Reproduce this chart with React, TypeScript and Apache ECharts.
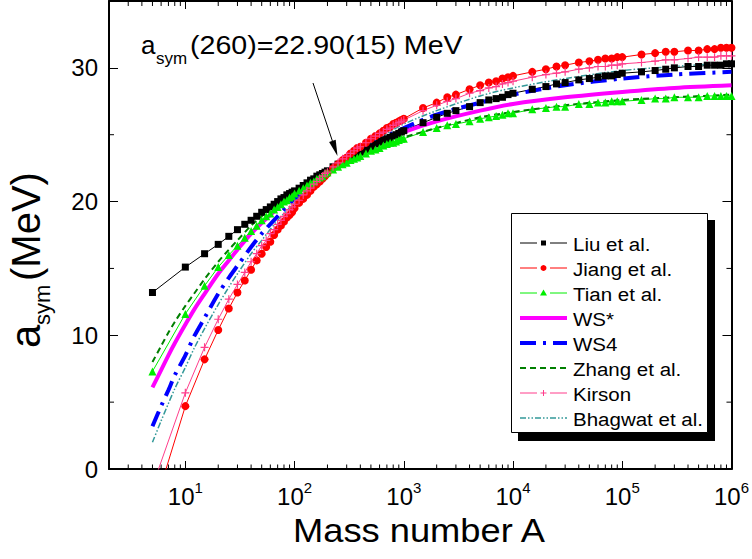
import React, { useEffect, useRef } from 'react';
import * as echarts from 'echarts';

// Mass numbers where the marker curves (Liu, Jiang, Tian, Kirson) are sampled
const A_MARK = [5, 10, 15, 20, 25, 30, 35, 40, 45, 50, 55, 60, 65, 70, 75, 80, 85, 90, 95, 100,
  110, 120, 130, 140, 150, 160, 170, 180, 190, 200,
  225, 250, 275, 300, 325, 350, 375, 400,
  450, 500, 550, 600, 650, 700, 750, 800, 850, 900, 950, 1000,
  1500, 2000, 2500, 3000, 4000, 5000, 6000, 7000, 8000, 9000,
  10000, 15000, 20000, 25000, 30000, 40000, 50000, 60000, 70000, 80000, 90000,
  100000, 150000, 200000, 250000, 300000, 400000, 500000, 600000, 700000, 800000, 900000,
  1000000];

const LIU = [13.2, 15.1, 16.1, 16.8, 17.4, 17.9, 18.3, 18.6, 18.9, 19.2, 19.4, 19.6, 19.8, 20.0, 20.2, 20.3, 20.5, 20.6, 20.7, 20.8,
  21.0, 21.2, 21.4, 21.6, 21.7, 21.9, 22.0, 22.1, 22.2, 22.3,
  22.6, 22.8, 23.0, 23.2, 23.3, 23.5, 23.6, 23.7,
  23.9, 24.1, 24.3, 24.5, 24.6, 24.7, 24.8, 24.9, 25.0, 25.1, 25.2, 25.3,
  25.9, 26.3, 26.6, 26.8, 27.1, 27.4, 27.6, 27.7, 27.8, 28.0,
  28.1, 28.4, 28.6, 28.8, 28.9, 29.1, 29.2, 29.3, 29.4, 29.4, 29.5,
  29.6, 29.7, 29.8, 29.9, 30.0, 30.1, 30.1, 30.2, 30.2, 30.2, 30.3,
  30.3];

const JIANG = [-3.3, 4.7, 8.2, 10.4, 12.0, 13.2, 14.1, 14.9, 15.6, 16.1, 16.6, 17.0, 17.5, 17.9, 18.2, 18.5, 18.8, 19.0, 19.2, 19.5,
  19.9, 20.2, 20.5, 20.8, 21.1, 21.3, 21.5, 21.7, 21.9, 22.1,
  22.5, 22.8, 23.1, 23.3, 23.6, 23.8, 24.0, 24.1,
  24.4, 24.7, 24.9, 25.1, 25.3, 25.5, 25.6, 25.8, 25.9, 26.0, 26.1, 26.2,
  27.0, 27.4, 27.8, 28.0, 28.4, 28.7, 28.9, 29.0, 29.2, 29.3,
  29.4, 29.7, 29.9, 30.1, 30.2, 30.4, 30.5, 30.6, 30.7, 30.7, 30.8,
  30.8, 31.0, 31.1, 31.2, 31.2, 31.3, 31.3, 31.4, 31.4, 31.5, 31.5,
  31.5];

const TIAN = [7.3, 11.6, 13.7, 15.1, 16.0, 16.7, 17.3, 17.8, 18.2, 18.6, 18.9, 19.1, 19.4, 19.6, 19.8, 20.0, 20.1, 20.3, 20.4, 20.6,
  20.8, 21.0, 21.2, 21.4, 21.5, 21.7, 21.8, 21.9, 22.1, 22.2,
  22.4, 22.6, 22.8, 22.9, 23.1, 23.2, 23.3, 23.4,
  23.6, 23.8, 23.9, 24.0, 24.2, 24.3, 24.4, 24.4, 24.5, 24.6, 24.7, 24.7,
  25.2, 25.5, 25.7, 25.8, 26.0, 26.2, 26.3, 26.4, 26.5, 26.6,
  26.6, 26.9, 27.0, 27.1, 27.1, 27.3, 27.3, 27.4, 27.4, 27.5, 27.5,
  27.5, 27.6, 27.7, 27.7, 27.8, 27.8, 27.8, 27.9, 27.9, 27.9, 27.9,
  27.9];

const KIRSON = [-1.3, 5.7, 9.1, 11.2, 12.7, 13.8, 14.7, 15.5, 16.1, 16.7, 17.1, 17.6, 17.9, 18.3, 18.6, 18.9, 19.1, 19.4, 19.6, 19.8,
  20.1, 20.5, 20.8, 21.0, 21.3, 21.5, 21.7, 21.9, 22.1, 22.2,
  22.6, 22.9, 23.2, 23.4, 23.6, 23.8, 24.0, 24.1,
  24.4, 24.7, 24.9, 25.1, 25.2, 25.4, 25.5, 25.7, 25.8, 25.9, 26.0, 26.1,
  26.8, 27.2, 27.5, 27.7, 28.1, 28.3, 28.5, 28.6, 28.8, 28.9,
  29.0, 29.3, 29.5, 29.6, 29.7, 29.9, 30.0, 30.1, 30.1, 30.2, 30.2,
  30.3, 30.4, 30.5, 30.6, 30.6, 30.7, 30.8, 30.8, 30.8, 30.9, 30.9,
  30.9];

// Mass numbers where the plain curves are read
const A_LINE = [5, 6, 7, 8, 10, 12, 15, 20, 25, 30, 40, 50, 70, 100, 150, 200, 300, 500, 700, 1000,
  2000, 5000, 10000, 30000, 100000, 300000, 1000000];

const WS_STAR = [6.1, 7.4, 8.5, 9.4, 10.8, 11.9, 13.1, 14.6, 15.6, 16.4, 17.6, 18.4, 19.5, 20.6, 21.7, 22.3, 23.2, 24.1, 24.6, 25.2,
  26.0, 26.8, 27.3, 27.8, 28.2, 28.5, 28.7];
const WS4 = [3.2, 4.7, 5.9, 7.0, 8.5, 9.9, 11.3, 13.1, 14.3, 15.2, 16.6, 17.6, 18.9, 20.2, 21.4, 22.2, 23.2, 24.3, 24.9, 25.5,
  26.5, 27.4, 28.0, 28.7, 29.2, 29.5, 29.7];
const ZHANG = [8.0, 9.2, 10.2, 11.0, 12.2, 13.1, 14.2, 15.5, 16.4, 17.1, 18.2, 18.9, 19.9, 20.8, 21.8, 22.4, 23.1, 23.9, 24.4, 24.8,
  25.5, 26.3, 26.7, 27.2, 27.6, 27.8, 28.0];
const BHAGWAT = [2.0, 3.6, 4.9, 6.0, 7.6, 9.0, 10.5, 12.3, 13.6, 14.6, 16.1, 17.1, 18.6, 19.9, 21.3, 22.2, 23.3, 24.4, 25.1, 25.8,
  26.8, 27.9, 28.5, 29.2, 29.8, 30.1, 30.4];

const X_MIN = 2;
const X_MAX = 1000000;
const Y_MIN = 0;
const Y_MAX = 35;
const Y_MINOR = [5, 15, 25];

const FONT = '"Liberation Sans", Arial, Helvetica, sans-serif';
const PLUS = 'path://M3.4,0H4.6V3.4H8V4.6H4.6V8H3.4V4.6H0V3.4H3.4Z';

type Def = {
  name: string; xs: number[]; ys: number[]; color: string; width: number;
  dash: any; symbol: string; size?: number; mark?: string;
};

const DEFS: Def[] = [
  { name: 'Liu et al.', xs: A_MARK, ys: LIU, color: '#000000', width: 1, dash: 'solid', symbol: 'rect', size: 7, mark: 'rect' },
  { name: 'Jiang et al.', xs: A_MARK, ys: JIANG, color: '#ff0000', width: 1, dash: 'solid', symbol: 'circle', size: 8, mark: 'circle' },
  { name: 'Tian et al.', xs: A_MARK, ys: TIAN, color: '#00ee00', width: 1, dash: 'solid', symbol: 'triangle', size: 8, mark: 'triangle' },
  { name: 'WS*', xs: A_LINE, ys: WS_STAR, color: '#ff00ff', width: 4, dash: 'solid', symbol: 'none' },
  { name: 'WS4', xs: A_LINE, ys: WS4, color: '#0000ff', width: 4, dash: [16, 7, 3, 7], symbol: 'none' },
  { name: 'Zhang et al.', xs: A_LINE, ys: ZHANG, color: '#007f00', width: 2, dash: [6, 4], symbol: 'none' },
  { name: 'Kirson', xs: A_MARK, ys: KIRSON, color: '#ff3d8b', width: 1, dash: 'solid', symbol: PLUS, size: 8, mark: 'plus' },
  { name: 'Bhagwat et al.', xs: A_LINE, ys: BHAGWAT, color: '#339999', width: 1.5, dash: [6, 2, 1.5, 2, 1.5, 2], symbol: 'none' },
];

function txt(text: string, x: number, y: number, fontSize: number, extra: any = {}) {
  return {
    type: 'text', x, y, ...extra,
    style: {
      text, fontSize, fontFamily: FONT, fill: '#000',
      align: 'left', textAlign: 'left', verticalAlign: 'middle', textVerticalAlign: 'middle',
    },
  };
}

function legendElements(): any[] {
  const els: any[] = [];
  els.push({ type: 'rect', shape: { x: 518, y: 220, width: 197, height: 221 }, style: { fill: '#000' } });
  els.push({ type: 'rect', shape: { x: 511.5, y: 213.5, width: 196, height: 219 }, style: { fill: '#fff', stroke: '#000', lineWidth: 1 } });
  DEFS.forEach((d, i) => {
    const y = 243 + 25 * i;
    const ls = { stroke: d.color, lineWidth: Math.min(d.width, 4), lineDash: Array.isArray(d.dash) ? d.dash : null };
    if (d.mark) {
      els.push({ type: 'line', shape: { x1: 520, y1: y, x2: 537, y2: y }, style: ls });
      els.push({ type: 'line', shape: { x1: 550, y1: y, x2: 567, y2: y }, style: ls });
      const cx = 543.5;
      if (d.mark === 'rect') els.push({ type: 'rect', shape: { x: cx - 2.5, y: y - 2.5, width: 5, height: 5 }, style: { fill: d.color } });
      if (d.mark === 'circle') els.push({ type: 'circle', shape: { cx, cy: y, r: 3 }, style: { fill: d.color } });
      if (d.mark === 'triangle') els.push({ type: 'polygon', shape: { points: [[cx, y - 3.5], [cx - 3.5, y + 2.5], [cx + 3.5, y + 2.5]] }, style: { fill: d.color } });
      if (d.mark === 'plus') {
        els.push({ type: 'line', shape: { x1: cx - 3, y1: y, x2: cx + 3, y2: y }, style: { stroke: d.color, lineWidth: 1 } });
        els.push({ type: 'line', shape: { x1: cx, y1: y - 3, x2: cx, y2: y + 3 }, style: { stroke: d.color, lineWidth: 1 } });
      }
    } else {
      els.push({ type: 'line', shape: { x1: 520, y1: y, x2: 567, y2: y }, style: ls });
    }
    els.push(txt(d.name, 573, y + 1.5, 19, { scaleX: 1.08 }));
  });
  return els;
}

function titleElements(): any[] {
  const els: any[] = [];
  // annotation
  els.push(txt('a', 141, 44.5, 26));
  els.push(txt('sym', 156, 58, 17));
  els.push(txt('(260)=22.90(15) MeV', 190, 44.5, 26, { scaleX: 1.1 }));
  els.push({ type: 'line', shape: { x1: 313, y1: 83, x2: 332.4, y2: 141 }, style: { stroke: '#000', lineWidth: 1 } });
  els.push({ type: 'polygon', shape: { points: [[337.5, 156], [329.1, 141.9], [335.7, 139.7]] }, style: { fill: '#000' } });
  // x-axis title
  els.push(txt('Mass number A', 293, 531, 33, { scaleX: 1.1 }));
  // y-axis title (baseline at x = 40, reading upward)
  els.push({
    type: 'group', x: 40, y: 348, rotation: Math.PI / 2,
    children: [
      txt('a', 0, -14.6, 42),
      txt('sym', 23, 2.4, 22),
      txt('(MeV)', 67, -13.9, 40),
    ],
  });
  return els;
}

function xLabel(v: number): string {
  const e = Math.round(Math.log10(v));
  if (Math.abs(v - Math.pow(10, e)) > 1e-6 * v) return '';
  return '{b|10}{s|' + e + '}';
}

const xMinor: number[] = [];
for (let e = 0; e <= 5; e++) {
  for (let m = 2; m <= 9; m++) {
    const v = m * Math.pow(10, e);
    if (v > X_MIN && v < X_MAX) xMinor.push(v);
  }
}

const axisLineStyle = { show: true, onZero: false, lineStyle: { color: '#000', width: 2 } };

const option: any = {
  animation: false,
  backgroundColor: '#fff',
  grid: { left: 109, right: 18, top: 1, bottom: 90, containLabel: false },
  xAxis: [
    {
      type: 'log', logBase: 10, min: X_MIN, max: X_MAX, position: 'bottom',
      axisLine: axisLineStyle,
      axisTick: { show: true, inside: true, length: 8, lineStyle: { color: '#000', width: 1 } },
      axisLabel: {
        show: true, margin: 11, formatter: xLabel,
        rich: {
          b: { fontSize: 24, lineHeight: 28, verticalAlign: 'bottom', fontFamily: FONT, color: '#000' },
          s: { fontSize: 15, lineHeight: 15, verticalAlign: 'top', fontFamily: FONT, color: '#000' },
        },
      },
      splitLine: { show: false },
    },
    {
      type: 'log', logBase: 10, min: X_MIN, max: X_MAX, position: 'top',
      axisLine: axisLineStyle,
      axisTick: { show: true, inside: true, length: 8, lineStyle: { color: '#000', width: 1 } },
      axisLabel: { show: false },
      splitLine: { show: false },
    },
  ],
  yAxis: [
    {
      type: 'value', min: Y_MIN, max: Y_MAX, interval: 10, position: 'left',
      axisLine: axisLineStyle,
      axisTick: { show: true, inside: true, length: 9, lineStyle: { color: '#000', width: 1 } },
      axisLabel: {
        margin: 11, fontSize: 24, fontFamily: FONT, color: '#000',
        formatter: (v: number) => (v % 10 === 0 ? String(v) : ''),
      },
      splitLine: { show: false },
    },
    {
      type: 'value', min: Y_MIN, max: Y_MAX, interval: 10, position: 'right',
      axisLine: axisLineStyle,
      axisTick: { show: true, inside: true, length: 9, lineStyle: { color: '#000', width: 1 } },
      axisLabel: { show: false },
      splitLine: { show: false },
    },
  ],
  series: [
    {
      type: 'custom', name: 'xminor', silent: true, clip: false, xAxisIndex: 0, yAxisIndex: 0,
      data: xMinor.map((v) => [v, Y_MIN]),
      renderItem: (_p: any, api: any) => {
        const v = api.value(0);
        const b = api.coord([v, Y_MIN]);
        const t = api.coord([v, Y_MAX]);
        return {
          type: 'group', children: [
            { type: 'line', shape: { x1: b[0], y1: b[1], x2: b[0], y2: b[1] - 4.5 }, style: { stroke: '#000', lineWidth: 1 } },
            { type: 'line', shape: { x1: t[0], y1: t[1], x2: t[0], y2: t[1] + 5 }, style: { stroke: '#000', lineWidth: 1 } },
          ],
        };
      },
    },
    {
      type: 'custom', name: 'yminor', silent: true, clip: false, xAxisIndex: 0, yAxisIndex: 0,
      data: Y_MINOR.map((v) => [X_MIN, v]),
      renderItem: (_p: any, api: any) => {
        const v = api.value(1);
        const l = api.coord([X_MIN, v]);
        const r = api.coord([X_MAX, v]);
        return {
          type: 'group', children: [
            { type: 'line', shape: { x1: l[0], y1: l[1], x2: l[0] + 5, y2: l[1] }, style: { stroke: '#000', lineWidth: 1 } },
            { type: 'line', shape: { x1: r[0], y1: r[1], x2: r[0] - 5, y2: r[1] }, style: { stroke: '#000', lineWidth: 1 } },
          ],
        };
      },
    },
    ...DEFS.map((d) => ({
      type: 'line', name: d.name, xAxisIndex: 0, yAxisIndex: 0,
      data: d.xs.map((x, i) => [x, d.ys[i]]),
      symbol: d.symbol, symbolSize: d.size || 0, showSymbol: d.symbol !== 'none',
      smooth: d.symbol === 'none' ? 0.3 : false,
      lineStyle: { color: d.color, width: d.width, type: d.dash },
      itemStyle: { color: d.color },
      emphasis: { disabled: true }, silent: true, clip: true,
    })),
  ],
  graphic: { elements: [...legendElements(), ...titleElements()] },
};

export default function App() {
  const ref = useRef<HTMLDivElement>(null);
  useEffect(() => {
    document.body.style.margin = '0';
    const chart = echarts.init(ref.current as HTMLDivElement, null, { renderer: 'svg' });
    chart.setOption(option);
    return () => chart.dispose();
  }, []);
  return <div ref={ref} style={{ width: 752, height: 559 }} />;
}
